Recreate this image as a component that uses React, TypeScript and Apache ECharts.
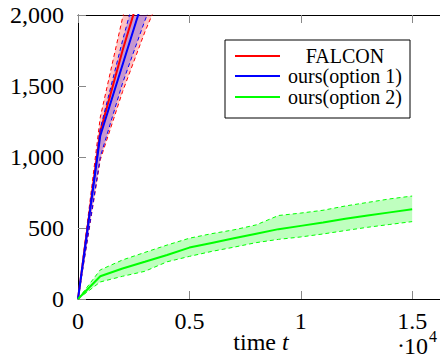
import React, { useEffect, useRef } from "react";
import * as echarts from "echarts";

// time points (raw t)
const timeFast = [0, 1000, 2000, 3000, 4000];
const timeAll = [0, 1000, 2000, 3000, 4000, 5000, 6000, 7000, 8000, 9000, 10000, 11000, 12000, 13000, 14000, 15000];

// FALCON
const falconMean = [0, 1180, 1750, 2270, 2750];
const falconUpper = [0, 1280, 1980, 2600, 3200];
const falconLower = [0, 980, 1460, 1880, 2250];

// ours (option 1)
const opt1Mean = [0, 1150, 1650, 2150, 2600];
const opt1Upper = [0, 1200, 1820, 2400, 2950];
const opt1Lower = [0, 1000, 1520, 1960, 2350];

// ours (option 2)
const opt2Mean = [0, 160, 215, 262, 310, 362, 395, 428, 460, 492, 515, 538, 565, 588, 610, 632];
const opt2Upper = [0, 205, 275, 328, 380, 428, 460, 487, 522, 588, 605, 625, 655, 680, 705, 725];
const opt2Lower = [0, 120, 160, 195, 262, 300, 335, 365, 397, 420, 437, 458, 482, 505, 525, 545];

const legendNames = ["FALCON", "ours(option 1)", "ours(option 2)"];
const colors = ["#ff0000", "#0000ff", "#00ff00"];
const fills = ["rgba(255,0,0,0.24)", "rgba(0,0,255,0.22)", "rgba(0,255,0,0.25)"];

const SERIF = "'Liberation Serif', 'Times New Roman', serif";

function bandSeries(
  xs: number[],
  mean: number[],
  lower: number[],
  upper: number[],
  color: string,
  fill: string
): any[] {
  const pair = (ys: number[]) => xs.map((x, i) => [x, ys[i]]);
  return [
    {
      type: "custom",
      data: [0],
      clip: true,
      silent: true,
      renderItem: (params: any, api: any) => {
        const pts: number[][] = [];
        for (let i = 0; i < xs.length; i++) pts.push(api.coord([xs[i], upper[i]]));
        for (let i = xs.length - 1; i >= 0; i--) pts.push(api.coord([xs[i], lower[i]]));
        return { type: "polygon", shape: { points: pts }, style: { fill, stroke: "none" } };
      },
    },
    {
      type: "line",
      data: pair(lower),
      symbol: "none",
      lineStyle: { color, width: 1, type: [4, 3] },
    },
    {
      type: "line",
      data: pair(upper),
      symbol: "none",
      lineStyle: { color, width: 1, type: [4, 3] },
    },
    {
      type: "line",
      data: pair(mean),
      symbol: "none",
      lineStyle: { color, width: 2 },
    },
  ];
}

export default function App() {
  const ref = useRef<HTMLDivElement>(null);
  useEffect(() => {
    if (!ref.current) return;
    const chart = echarts.init(ref.current, undefined, { renderer: "svg" });
    const legendY = [56, 76, 97];
    const option: any = {
      animation: false,
      backgroundColor: "#fff",
      grid: { left: 78, top: 15, right: 0, bottom: 61 },
      xAxis: [
        {
          type: "value",
          position: "bottom",
          min: 0,
          max: 16250,
          interval: 5000,
          axisLine: { show: true, onZero: false, lineStyle: { color: "#000", width: 1 } },
          axisTick: { show: true, inside: true, length: 8, lineStyle: { color: "#888" } },
          axisLabel: {
            formatter: (v: number) => String(v / 10000),
            fontFamily: SERIF,
            fontSize: 24,
            color: "#000",
            margin: 10,
            showMaxLabel: false,
          },
          splitLine: { show: false },
        },
        {
          type: "value",
          position: "top",
          min: 0,
          max: 16250,
          interval: 5000,
          axisLine: { show: true, onZero: false, lineStyle: { color: "#000", width: 1 } },
          axisTick: { show: true, inside: true, length: 8, lineStyle: { color: "#888" } },
          axisLabel: { show: false },
          splitLine: { show: false },
        },
      ],
      yAxis: {
        type: "value",
        min: 0,
        max: 2000,
        interval: 500,
        axisLine: { show: true, lineStyle: { color: "#000", width: 1 } },
        axisTick: { show: true, inside: true, length: 8, lineStyle: { color: "#888" } },
        axisLabel: { fontFamily: SERIF, fontSize: 24, color: "#000", margin: 14 },
        splitLine: { show: false },
      },
      series: [
        ...bandSeries(timeFast, falconMean, falconLower, falconUpper, colors[0], fills[0]),
        ...bandSeries(timeFast, opt1Mean, opt1Lower, opt1Upper, colors[1], fills[1]),
        ...bandSeries(timeAll, opt2Mean, opt2Lower, opt2Upper, colors[2], fills[2]),
      ],
      graphic: [
        {
          type: "text",
          x: 261,
          y: 342,
          style: {
            text: "{a|time }{b|t}",
            textAlign: "center",
            textVerticalAlign: "middle",
            rich: {
              a: { fontFamily: SERIF, fontSize: 24, fill: "#000" },
              b: { fontFamily: SERIF, fontSize: 24, fontStyle: "italic", fill: "#000" },
            },
          },
        },
        {
          type: "text",
          x: 397,
          y: 345,
          style: { text: "·", fontFamily: SERIF, fontSize: 24, fill: "#000", textVerticalAlign: "middle" },
        },
        {
          type: "text",
          x: 404,
          y: 346,
          style: { text: "10", fontFamily: SERIF, fontSize: 24, fill: "#000", textVerticalAlign: "middle" },
        },
        {
          type: "text",
          x: 429,
          y: 336,
          style: { text: "4", fontFamily: SERIF, fontSize: 16, fill: "#000", textVerticalAlign: "middle" },
        },
        {
          type: "rect",
          shape: { x: 225, y: 40, width: 185, height: 78 },
          style: { fill: "#fff", stroke: "#000", lineWidth: 1 },
          z: 10,
        },
        ...legendNames.flatMap((name, i) => [
          {
            type: "line",
            shape: { x1: 235, y1: legendY[i], x2: 280, y2: legendY[i] },
            style: { stroke: colors[i], lineWidth: 2 },
            z: 11,
          },
          {
            type: "text",
            x: 345,
            y: legendY[i],
            z: 11,
            style: {
              text: name,
              fontFamily: SERIF,
              fontSize: 20,
              fill: "#000",
              textAlign: "center",
              textVerticalAlign: "middle",
            },
          },
        ]),
      ],
    };
    chart.setOption(option);
    return () => chart.dispose();
  }, []);
  return (
    <div style={{ position: "fixed", left: 0, top: 0, width: 440, height: 360, overflow: "hidden", background: "#fff" }}>
      <div ref={ref} style={{ width: 440, height: 360 }} />
    </div>
  );
}
